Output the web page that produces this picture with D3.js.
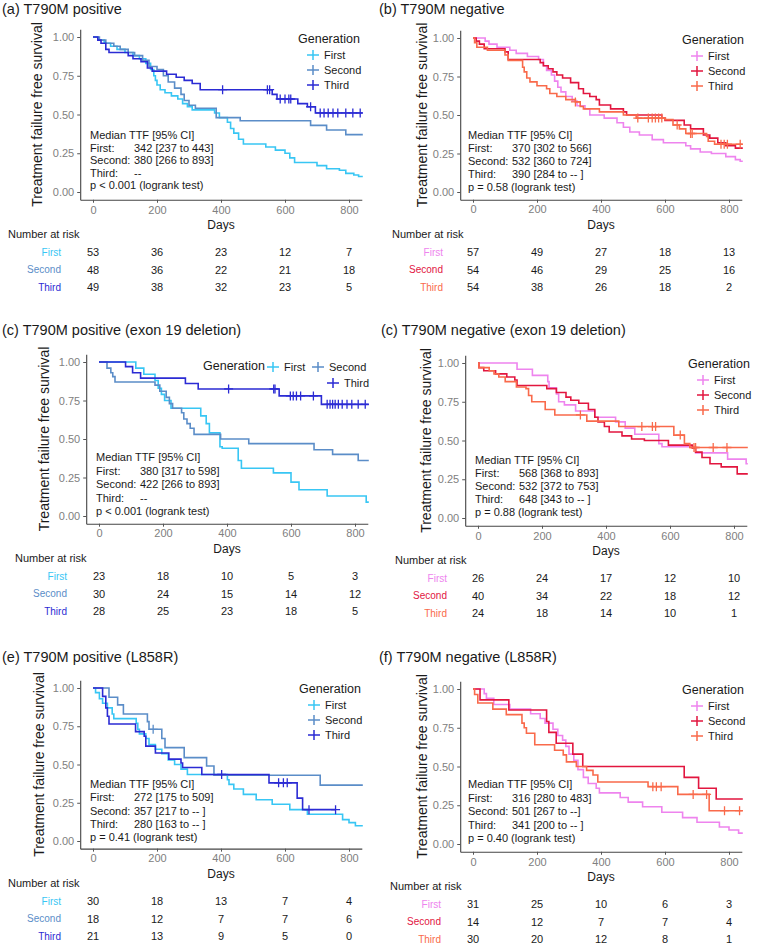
<!DOCTYPE html>
<html>
<head>
<meta charset="utf-8">
<script src="https://cdn.jsdelivr.net/npm/d3@7"></script>
<style>
  body { margin: 0; background: #fff; }
  svg { font-family: "Liberation Sans", Arial, sans-serif; }
</style>
</head>
<body>
<div id="chart"></div>
<script>
// Kaplan-Meier panels: treatment failure free survival by generation

var groups = ["First", "Second", "Third"];
var dayTicks = [0, 200, 400, 600, 800];
var survTicks = [0, 0.25, 0.5, 0.75, 1];
var posColors = ["#38c6f4", "#5b8dc8", "#2b2bd4"];
var negColors = ["#ee84ee", "#e2163f", "#f96a4b"];

var titles = [
  "(a) T790M positive",
  "(b) T790M negative",
  "(c) T790M positive (exon 19 deletion)",
  "(c) T790M negative (exon 19 deletion)",
  "(e) T790M positive (L858R)",
  "(f) T790M negative (L858R)"
];

// steps: [day, survival after the drop]
var aFirst = [[15,0.98],[35,0.96],[55,0.94],[75,0.92],[100,0.90],[125,0.88],[145,0.86],[165,0.83],[180,0.79],[190,0.75],[195,0.72],[200,0.69],[210,0.66],[225,0.64],[245,0.62],[265,0.60],[280,0.57],[295,0.55],[310,0.53],[380,0.51],[395,0.48],[420,0.45],[430,0.41],[440,0.38],[455,0.34],[470,0.31],[540,0.29],[570,0.27],[600,0.25],[615,0.22],[630,0.19],[700,0.17],[730,0.15],[770,0.14],[790,0.12],[815,0.11],[830,0.10]];
var aSecond = [[20,0.98],[40,0.96],[65,0.94],[85,0.92],[110,0.90],[130,0.88],[155,0.85],[175,0.81],[200,0.79],[220,0.75],[235,0.71],[255,0.67],[275,0.63],[285,0.59],[300,0.56],[320,0.54],[385,0.48],[460,0.46],[680,0.43],[730,0.40],[790,0.37]];
var aThird = [[15,0.98],[25,0.96],[40,0.92],[50,0.90],[110,0.88],[125,0.86],[150,0.84],[170,0.80],[185,0.78],[230,0.76],[260,0.74],[285,0.72],[310,0.70],[335,0.66],[560,0.63],[575,0.60],[640,0.57],[670,0.55],[695,0.51]];
var aThirdCens = [405,545,552,585,600,612,618,680,710,722,735,750,765,790,812,835];

var bFirst = [[38,0.98],[50,0.96],[75,0.94],[115,0.92],[135,0.90],[170,0.88],[205,0.86],[220,0.82],[230,0.79],[245,0.76],[255,0.72],[265,0.68],[275,0.65],[290,0.62],[310,0.59],[325,0.56],[350,0.54],[365,0.50],[410,0.48],[450,0.45],[470,0.42],[490,0.39],[520,0.37],[560,0.34],[595,0.32],[665,0.30],[680,0.28],[710,0.26],[745,0.25],[790,0.23],[820,0.21],[835,0.20]];
var bSecond = [[10,0.98],[20,0.96],[35,0.93],[100,0.91],[110,0.86],[210,0.84],[220,0.82],[235,0.80],[250,0.78],[262,0.76],[280,0.74],[305,0.71],[330,0.67],[345,0.64],[365,0.62],[385,0.60],[395,0.565],[430,0.54],[470,0.52],[480,0.50],[590,0.48],[600,0.465],[660,0.435],[680,0.41],[720,0.37],[740,0.35],[765,0.32],[790,0.30],[820,0.285]];
var bThird = [[5,0.97],[12,0.94],[45,0.92],[100,0.89],[110,0.855],[155,0.81],[160,0.78],[168,0.74],[178,0.715],[200,0.69],[230,0.67],[240,0.64],[262,0.62],[290,0.60],[320,0.585],[335,0.555],[345,0.54],[395,0.52],[470,0.50],[510,0.48],[600,0.47],[625,0.435],[645,0.41],[665,0.38],[730,0.36],[735,0.33],[755,0.31]];
var bThirdCens = [320,515,548,560,570,580,590,638,680,685,775,785,795,835];

var cFirst = [[115,0.96],[140,0.92],[175,0.88],[185,0.83],[195,0.79],[205,0.75],[225,0.70],[318,0.65],[335,0.60],[345,0.54],[378,0.45],[385,0.44],[435,0.36],[445,0.31],[545,0.28],[600,0.22],[625,0.17],[713,0.13],[835,0.09]];
var cSecond = [[25,0.96],[37,0.93],[43,0.905],[50,0.87],[175,0.85],[190,0.81],[210,0.77],[220,0.73],[230,0.70],[258,0.67],[265,0.63],[275,0.60],[285,0.57],[297,0.53],[380,0.50],[468,0.47],[672,0.43],[730,0.40],[810,0.36]];
var cThird = [[83,0.97],[105,0.93],[130,0.895],[270,0.86],[310,0.825],[563,0.78],[695,0.725]];
var cThirdCens = [405,546,550,598,607,617,630,670,713,722,730,738,748,760,775,790,810,832];

var dFirst = [[122,0.96],[170,0.92],[218,0.88],[222,0.84],[245,0.80],[252,0.75],[270,0.73],[305,0.69],[365,0.65],[430,0.62],[460,0.58],[490,0.54],[565,0.48],[575,0.46],[680,0.42],[780,0.38],[838,0.35]];
var dSecond = [[3,0.97],[18,0.95],[55,0.93],[90,0.91],[115,0.89],[122,0.855],[215,0.835],[245,0.81],[275,0.78],[290,0.76],[315,0.74],[345,0.70],[365,0.65],[375,0.62],[395,0.59],[410,0.555],[450,0.53],[480,0.51],[520,0.50],[595,0.47],[670,0.45],[680,0.425],[700,0.39],[725,0.35],[760,0.33],[810,0.285]];
var dThird = [[3,0.97],[35,0.95],[50,0.93],[65,0.91],[85,0.88],[120,0.845],[150,0.835],[158,0.79],[168,0.75],[210,0.70],[240,0.665],[340,0.625],[440,0.59],[612,0.535],[645,0.48],[662,0.455]];
var dThirdCens = [320,512,545,555,632,675,680,735,778];

var eFirst = [[8,0.97],[20,0.93],[30,0.90],[45,0.87],[60,0.83],[65,0.80],[135,0.77],[140,0.73],[145,0.70],[165,0.67],[175,0.63],[195,0.60],[215,0.57],[235,0.53],[255,0.50],[275,0.47],[295,0.435],[420,0.40],[425,0.37],[440,0.34],[470,0.305],[510,0.27],[560,0.24],[615,0.205],[670,0.175],[780,0.14],[800,0.12],[820,0.10]];
var eSecond = [[50,0.94],[77,0.89],[95,0.83],[170,0.78],[175,0.73],[215,0.67],[225,0.61],[285,0.545],[355,0.49],[378,0.43],[710,0.365]];
var eSecondCens = [188];
var eThird = [[30,0.945],[40,0.87],[45,0.815],[50,0.765],[133,0.715],[160,0.685],[165,0.62],[195,0.575],[237,0.535],[275,0.51],[280,0.48],[340,0.435],[550,0.38],[638,0.28],[655,0.205]];
var eThirdCens = [402,580,595,607,675,758];

var fFirst = [[35,0.97],[42,0.94],[65,0.90],[115,0.87],[180,0.84],[210,0.81],[225,0.78],[250,0.74],[265,0.70],[280,0.67],[290,0.63],[300,0.58],[315,0.54],[328,0.48],[345,0.43],[360,0.39],[385,0.36],[395,0.33],[460,0.30],[485,0.27],[530,0.24],[590,0.205],[655,0.17],[700,0.14],[770,0.11],[800,0.09],[830,0.07]];
var fSecond = [[22,0.93],[112,0.865],[230,0.79],[237,0.72],[260,0.65],[312,0.58],[343,0.50],[660,0.43],[705,0.36],[760,0.29]];
var fThird = [[5,0.965],[15,0.91],[62,0.87],[104,0.835],[153,0.78],[160,0.75],[167,0.715],[193,0.64],[255,0.605],[282,0.575],[292,0.53],[323,0.50],[355,0.475],[375,0.445],[390,0.40],[547,0.37],[640,0.32],[738,0.215]];
var fThirdCens = [562,573,588,688,730,786,833];

// number at risk at dayTicks
var aRisk = [[53,36,23,12,7],[48,36,22,21,18],[49,38,32,23,5]];
var bRisk = [[57,49,27,18,13],[54,46,29,25,16],[54,38,26,18,2]];
var cRisk = [[23,18,10,5,3],[30,24,15,14,12],[28,25,23,18,5]];
var dRisk = [[26,24,17,12,10],[40,34,22,18,12],[24,18,14,10,1]];
var eRisk = [[30,18,13,7,4],[18,12,7,7,6],[21,13,9,5,0]];
var fRisk = [[31,25,10,6,3],[14,12,7,7,4],[30,20,12,8,1]];

// median TTF notes
var aNote = ["342 [237 to 443]", "380 [266 to 893]", "--", "p < 0.001 (logrank test)"];
var bNote = ["370 [302 to 566]", "532 [360 to 724]", "390 [284 to -- ]", "p = 0.58 (logrank test)"];
var cNote = ["380 [317 to 598]", "422 [266 to 893]", "--", "p < 0.001 (logrank test)"];
var dNote = ["568 [368 to 893]", "532 [372 to 753]", "648 [343 to -- ]", "p = 0.88 (logrank test)"];
var eNote = ["272 [175 to 509]", "357 [217 to -- ]", "280 [163 to -- ]", "p = 0.41 (logrank test)"];
var fNote = ["316 [280 to 483]", "501 [267 to --]", "341 [200 to -- ]", "p = 0.40 (logrank test)"];

var panels = [
  {curves:[aFirst,aSecond,aThird], cens:[[],[],aThirdCens], ends:[850,850,850], risk:aRisk, note:aNote, colors:posColors,
   day0:93, y1:37, y0:192, tx:2, ty:9, ytx:37, leg:{x:298, y:39}, nx:90, ny:135, ndy:12.6, rx:8, rname:61},
  {curves:[bFirst,bSecond,bThird], cens:[[],[],bThirdCens], ends:[850,850,850], risk:bRisk, note:bNote, colors:negColors,
   day0:473, y1:38, y0:192, tx:379, ty:9, ytx:422, leg:{x:682, y:40}, nx:468, ny:135, ndy:13, rx:392, rname:443},
  {curves:[cFirst,cSecond,cThird], cens:[[],[],cThirdCens], ends:[850,850,850], risk:cRisk, note:cNote, colors:posColors,
   day0:99, y1:362, y0:516, tx:2, ty:330, ytx:44, leg:{x:203, y:366, row:true}, nx:96, ny:457, ndy:13.5, rx:15, rname:67},
  {curves:[dFirst,dSecond,dThird], cens:[[],[],dThirdCens], ends:[850,850,850], risk:dRisk, note:dNote, colors:negColors,
   day0:478, y1:363, y0:518, tx:381, ty:330, ytx:426, leg:{x:688, y:364}, nx:475, ny:460, ndy:13, rx:395, rname:447},
  {curves:[eFirst,eSecond,eThird], cens:[[],eSecondCens,eThirdCens], ends:[850,850,758], risk:eRisk, note:eNote, colors:posColors,
   day0:93, y1:688, y0:841, tx:2, ty:657, ytx:39, leg:{x:299, y:689}, nx:90, ny:784, ndy:13.3, rx:8, rname:61},
  {curves:[fFirst,fSecond,fThird], cens:[[],[],fThirdCens], ends:[850,850,850], risk:fRisk, note:fNote, colors:negColors,
   day0:473, y1:689, y0:844, tx:379, ty:657, ytx:422, leg:{x:682, y:690}, nx:468, ny:784, ndy:13.5, rx:390, rname:441}
];

var svg = d3.select("#chart").append("svg")
  .attr("width", 777)
  .attr("height", 944);

function survAt(steps, t) {
  var s = 1;
  steps.forEach(function (d) { if (d[0] <= t) s = d[1]; });
  return s;
}

function stepPoints(steps, end) {
  var pts = [[0, 1]], s = 1;
  steps.forEach(function (d) {
    pts.push([d[0], s]);
    pts.push([d[0], d[1]]);
    s = d[1];
  });
  pts.push([end, s]);
  return pts;
}

var crossPath = "M-4.5,0H4.5M0,-4.5V4.5";

panels.forEach(function (p, i) {
  var g = svg.append("g");
  var h = p.y0 - p.y1;
  var x = d3.scaleLinear().domain([-40, 840]).range([p.day0 - 12.8, p.day0 + 268.8]);
  var y = d3.scaleLinear().domain([-0.05, 1.05]).range([p.y0 + 0.05 * h, p.y1 - 0.05 * h]);
  var bottom = y(-0.05);
  var midX = (x(-40) + x(840)) / 2;

  // title
  g.append("text")
    .attr("x", p.tx).attr("y", p.ty)
    .attr("dominant-baseline", "central")
    .style("font-size", "14.5px").style("fill", "#1a1a1a")
    .text(titles[i]);

  // clip
  g.append("clipPath").attr("id", "clip" + i)
    .append("rect")
    .attr("x", x(-40)).attr("y", y(1.05) - 6)
    .attr("width", x(840) - x(-40) + 1).attr("height", bottom - y(1.05) + 6);

  // axes
  var xAxis = g.append("g")
    .attr("transform", "translate(0," + bottom + ")")
    .call(d3.axisBottom(x).tickValues(dayTicks).tickSize(3).tickSizeOuter(0).tickPadding(3));
  var yAxis = g.append("g")
    .attr("transform", "translate(" + x(-40) + ",0)")
    .call(d3.axisLeft(y).tickValues(survTicks).tickFormat(d3.format(".2f")).tickSize(3).tickSizeOuter(0).tickPadding(3));
  [xAxis, yAxis].forEach(function (ax) {
    ax.select(".domain").attr("stroke", "#444").attr("stroke-width", 1.1);
    ax.selectAll(".tick line").attr("stroke", "#555");
    ax.selectAll(".tick text").style("font-size", "11px").style("fill", "#808080")
      .style("font-family", "'Liberation Sans', Arial, sans-serif");
  });

  // axis titles
  g.append("text")
    .attr("transform", "translate(" + p.ytx + "," + (p.y1 + p.y0) / 2 + ") rotate(-90)")
    .attr("text-anchor", "middle").attr("dominant-baseline", "central")
    .style("font-size", "14px").style("fill", "#1a1a1a")
    .text("Treatment failure free survival");
  g.append("text")
    .attr("x", midX).attr("y", bottom + 25)
    .attr("text-anchor", "middle").attr("dominant-baseline", "central")
    .style("font-size", "12px").style("fill", "#1a1a1a")
    .text("Days");

  // curves
  var line = d3.line().x(function (d) { return x(d[0]); }).y(function (d) { return y(d[1]); });
  var plot = g.append("g").attr("clip-path", "url(#clip" + i + ")");
  p.curves.forEach(function (steps, k) {
    plot.append("path")
      .attr("d", line(stepPoints(steps, p.ends[k])))
      .attr("fill", "none")
      .attr("stroke", p.colors[k])
      .attr("stroke-width", 1.6);
    plot.selectAll(null)
      .data(p.cens[k])
      .enter().append("path")
      .attr("d", crossPath)
      .attr("transform", function (t) { return "translate(" + x(t) + "," + y(survAt(steps, t)) + ")"; })
      .attr("stroke", p.colors[k])
      .attr("stroke-width", 1.3);
  });

  // legend
  var leg = g.append("g");
  leg.append("text")
    .attr("x", p.leg.x).attr("y", p.leg.y)
    .attr("dominant-baseline", "central")
    .style("font-size", "12.5px").style("fill", "#1a1a1a")
    .text("Generation");
  var keyPos;
  if (p.leg.row) {
    keyPos = [[p.leg.x + 70, p.leg.y + 1], [p.leg.x + 115, p.leg.y + 1], [p.leg.x + 130, p.leg.y + 17]];
  } else {
    keyPos = [[p.leg.x + 15, p.leg.y + 16], [p.leg.x + 15, p.leg.y + 31], [p.leg.x + 15, p.leg.y + 46]];
  }
  groups.forEach(function (name, k) {
    leg.append("path")
      .attr("d", "M-6,0H6M0,-5V5")
      .attr("transform", "translate(" + keyPos[k][0] + "," + keyPos[k][1] + ")")
      .attr("stroke", p.colors[k])
      .attr("stroke-width", 1.5);
    leg.append("text")
      .attr("x", keyPos[k][0] + 11).attr("y", keyPos[k][1])
      .attr("dominant-baseline", "central")
      .style("font-size", "11px").style("fill", "#1a1a1a")
      .text(name);
  });

  // median TTF note
  var note = g.append("g").style("font-size", "11px").style("fill", "#1a1a1a");
  note.append("text").attr("x", p.nx).attr("y", p.ny).attr("dominant-baseline", "central")
    .text("Median  TTF  [95% CI]");
  groups.forEach(function (name, k) {
    var yy = p.ny + p.ndy * (k + 1);
    note.append("text").attr("x", p.nx).attr("y", yy).attr("dominant-baseline", "central")
      .text(name + ":");
    note.append("text").attr("x", p.nx + 44).attr("y", yy).attr("dominant-baseline", "central")
      .text(p.note[k]);
  });
  note.append("text").attr("x", p.nx).attr("y", p.ny + p.ndy * 4).attr("dominant-baseline", "central")
    .text(p.note[3]);

  // number at risk table
  g.append("text")
    .attr("x", p.rx).attr("y", bottom + 34.5)
    .attr("dominant-baseline", "central")
    .style("font-size", "11px").style("fill", "#1a1a1a")
    .text("Number at risk");
  var rowY = [bottom + 52.5, bottom + 70, bottom + 87.5];
  groups.forEach(function (name, k) {
    g.append("text")
      .attr("x", p.rname).attr("y", rowY[k])
      .attr("text-anchor", "end").attr("dominant-baseline", "central")
      .style("font-size", "10px").style("fill", p.colors[k])
      .text(name);
    g.selectAll(null)
      .data(p.risk[k])
      .enter().append("text")
      .attr("x", function (d, j) { return x(dayTicks[j]); })
      .attr("y", rowY[k])
      .attr("text-anchor", "middle").attr("dominant-baseline", "central")
      .style("font-size", "11px").style("fill", "#1a1a1a")
      .text(function (d) { return d; });
  });
});
</script>
</body>
</html>
